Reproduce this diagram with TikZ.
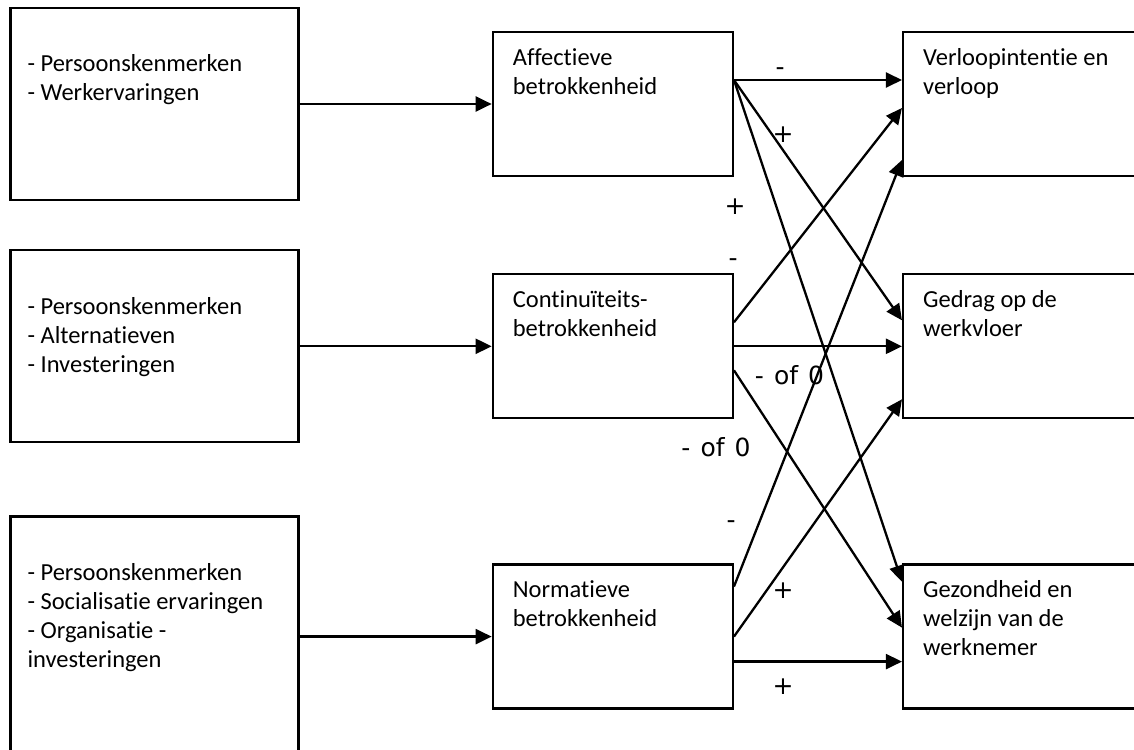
\documentclass[tikz,border=0pt]{standalone}
\usepackage{fontspec}
\setmainfont{Carlito}[Ligatures=NoCommon]
\newfontfamily\signfont{DejaVu Sans}
\usetikzlibrary{positioning, arrows.meta}
\tikzset{
>={Triangle[length=16pt,width=15pt]}, % filled arrow heads
factor/.style={draw, line width=2.3pt, minimum width=288pt, minimum height=192pt, inner sep=0pt}, % boxes on the left
commit/.style={draw, line width=2.3pt, minimum width=240pt, minimum height=144pt, inner sep=0pt}, % middle and right boxes
boxtext/.style={anchor=north west, inner sep=0pt, align=left, font=\fontsize{24.5pt}{29pt}\selectfont},
sign/.style={inner sep=0pt, font=\signfont\fontsize{25pt}{29pt}\selectfont},
link/.style={->, line width=2.3pt},
}
\begin{document}
\begin{tikzpicture}[x=1pt, y=-1pt]
\useasboundingbox (0,0) rectangle (1134,749);
% antecedents
\node[factor] (in1) at (154.5,104) {};
\node[factor, below=48pt of in1] (in2) {};
\node[factor, below=72pt of in2, minimum height=240pt] (in3) {};
% forms of commitment
\node[commit, right=192pt of in1] (aff) {};
\node[commit, right=192pt of in2] (con) {};
\node[commit, right=192pt of in3] (nor) {};
% outcomes
\node[commit, right=168pt of aff] (verl) {};
\node[commit, right=168pt of con] (ged) {};
\node[commit, right=168pt of nor] (gez) {};

\node[boxtext] (in1txt) at ([xshift=18pt, yshift=-44.5pt]in1.north west) {\strut- Persoonskenmerken\\- Werkervaringen};
\node[boxtext] (in2txt) at ([xshift=18pt, yshift=-44.5pt]in2.north west) {\strut- Persoonskenmerken\\- Alternatieven\\- Investeringen};
\node[boxtext] (in3txt) at ([xshift=18pt, yshift=-44.5pt]in3.north west) {\strut- Persoonskenmerken\\- Socialisatie ervaringen\\- Organisatie -\\investeringen};
\node[boxtext] (afftxt) at ([xshift=21pt, yshift=-13.7pt]aff.north west) {\strut Affectieve\\betrokkenheid};
\node[boxtext] (contxt) at ([xshift=21pt, yshift=-13.7pt]con.north west) {\strut Continuïteits-\\betrokkenheid};
\node[boxtext] (nortxt) at ([xshift=21pt, yshift=-13.7pt]nor.north west) {\strut Normatieve\\betrokkenheid};
\node[boxtext] (verltxt) at ([xshift=21pt, yshift=-13.7pt]verl.north west) {\strut Verloopintentie en\\verloop};
\node[boxtext] (gedtxt) at ([xshift=21pt, yshift=-13.7pt]ged.north west) {\strut Gedrag op de\\werkvloer};
\node[boxtext] (geztxt) at ([xshift=21pt, yshift=-13.7pt]gez.north west) {\strut Gezondheid en\\welzijn van de\\werknemer};

\draw[link] (in1) -- (aff);
\draw[link] (in2) -- (con);
\draw[link] (in3) -- (nor);

\draw[link] ([yshift=24pt]aff.east) -- ([yshift=24pt]verl.west);
\draw[link] ([yshift=24pt]aff.east) -- ([yshift=26pt]ged.west);
\draw[link] ([yshift=24pt]aff.east) -- ([yshift=55pt]gez.west);
\draw[link] ([yshift=24pt]con.east) -- ([yshift=-4pt]verl.west);
\draw[link] (con.east) -- (ged.west);
\draw[link] ([yshift=-24pt]con.east) -- ([yshift=9pt]gez.west);
\draw[link] ([yshift=50pt]nor.east) -- ([yshift=-56pt]verl.west);
\draw[link] (nor.east) -- ([yshift=-53pt]ged.west);
\draw[link] ([yshift=-25pt]nor.east) -- ([yshift=-25pt]gez.west);

% signs of the effects
\node[sign] (s1) at (780,71.5) {-};
\node[sign] (s2) at (783,135) {+};
\node[sign] (s3) at (735,207) {+};
\node[sign] (s4) at (733,263) {-};
\node[sign] (s5) at (789.5,375) {-\hspace{10pt}of\hspace{10pt}0};
\node[sign] (s6) at (716,447) {-\hspace{10pt}of\hspace{10pt}0};
\node[sign] (s7) at (731,525) {-};
\node[sign] (s8) at (783,591) {+};
\node[sign] (s9) at (783,687) {+};
\end{tikzpicture}
\end{document}
